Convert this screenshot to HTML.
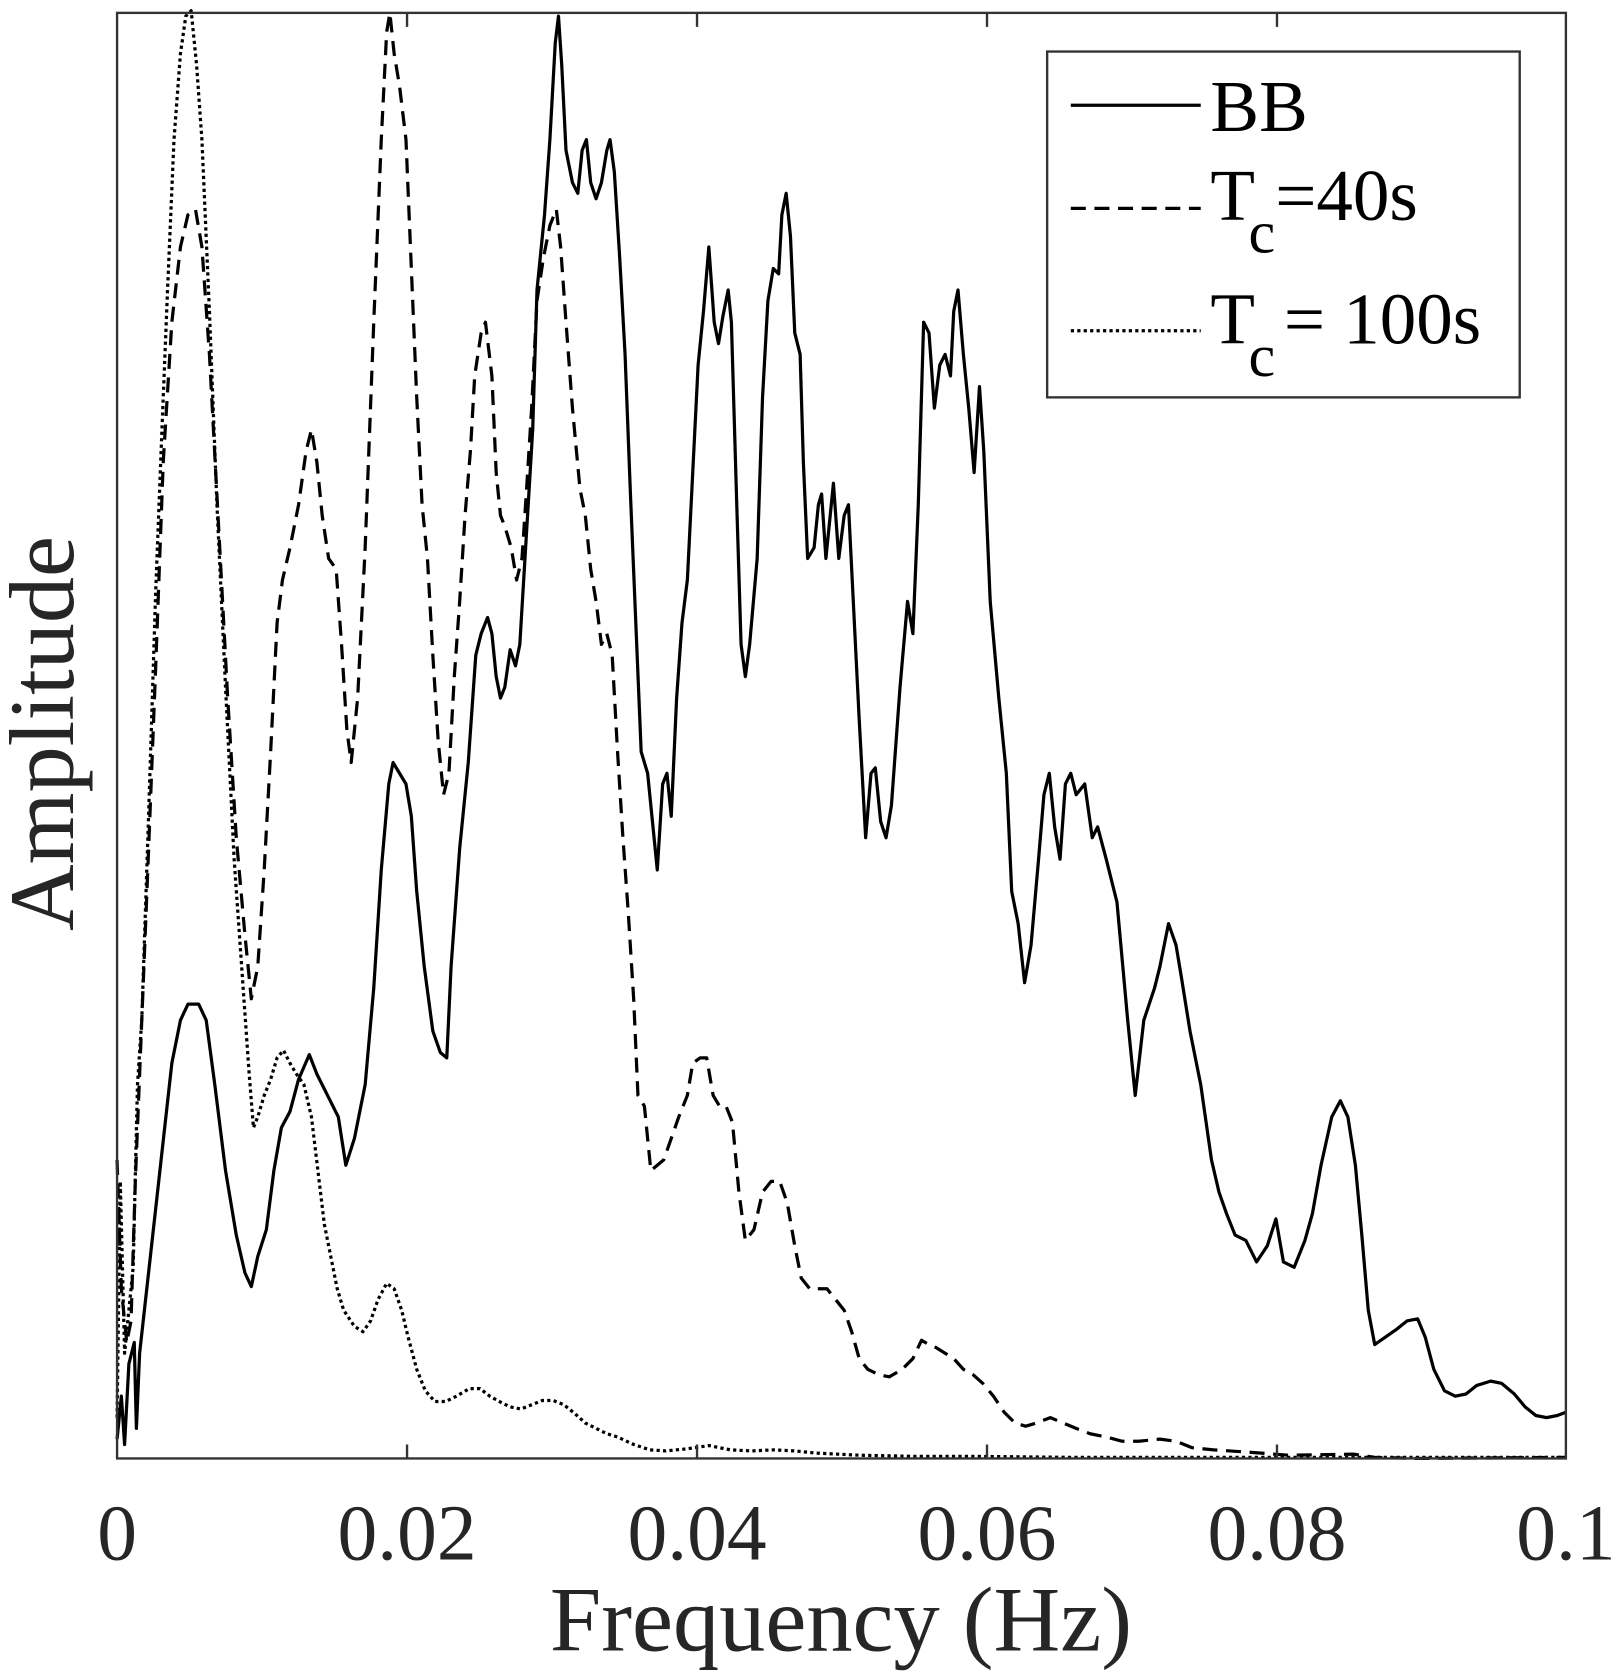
<!DOCTYPE html>
<html><head><meta charset="utf-8"><style>html,body{margin:0;padding:0;background:#fff}svg{display:block}</style></head>
<body>
<svg width="1611" height="1677" viewBox="0 0 1500 1561.5" preserveAspectRatio="none" xmlns="http://www.w3.org/2000/svg" font-family="'Liberation Serif', serif">
<rect width="1500" height="1562" fill="#fff"/>
<g fill="none" stroke="#000" stroke-width="3" stroke-linejoin="round">
<polyline stroke-dasharray="3,3" points="109,1320 112,1100 116,1260 120,1220 124,1180 128,1010 132,950 138,770 145,550 150,420 156,270 162,130 168,50 173,15 178,10 183,60 188,130 195,290 202,470 210,640 218,800 225,900 232,1000 236,1050 240,1040 246,1020 252,1005 258,985 264,978 270,990 276,1000 283,1010 290,1040 296,1090 302,1140 308,1170 314,1200 320,1220 330,1235 338,1240 345,1230 352,1210 360,1195 367,1200 374,1220 380,1245 388,1275 396,1295 405,1305 415,1305 425,1300 437,1293 447,1293 456,1300 465,1305 475,1310 485,1312 495,1308 505,1304 515,1304 525,1308 535,1316 545,1325 555,1330 565,1335 575,1338 590,1345 605,1350 620,1351 640,1349 660,1346 680,1350 700,1351 720,1350 740,1351 760,1353 800,1355 850,1356 900,1356 1000,1357 1458,1357"/>
<polyline stroke-dasharray="14,8" points="109,1080 113,1200 118,1250 122,1230 126,1100 130,1000 138,800 145,620 152,430 160,300 168,230 175,200 182,195 188,230 195,330 203,480 212,650 220,780 228,870 234,930 240,900 246,810 252,700 258,580 263,540 270,510 278,470 285,420 290,400 295,430 300,480 306,520 313,530 318,600 323,680 327,710 333,650 340,510 348,300 355,130 360,30 363,12 367,50 372,80 378,130 383,250 388,370 393,470 398,520 403,610 408,690 413,740 418,720 423,630 428,560 433,480 438,420 442,350 448,310 452,300 458,350 462,440 466,480 470,490 476,510 481,540 486,520 490,460 495,380 500,280 506,240 512,210 518,195 522,230 527,300 533,380 540,455 545,480 550,530 555,560 560,600 565,590 570,610 575,700 580,780 585,850 590,930 594,1020 600,1030 606,1090 612,1085 618,1080 625,1060 632,1040 640,1020 645,990 652,985 658,985 664,1020 670,1030 676,1030 682,1045 688,1110 694,1155 702,1145 710,1110 718,1100 726,1100 733,1120 740,1160 746,1190 754,1200 762,1200 770,1200 778,1210 786,1220 793,1240 800,1265 808,1275 818,1280 828,1282 840,1275 850,1265 858,1248 865,1252 872,1255 880,1260 888,1265 897,1275 906,1280 915,1288 925,1300 935,1315 945,1325 955,1328 965,1325 978,1320 990,1325 1002,1330 1015,1335 1030,1338 1045,1342 1060,1342 1080,1340 1095,1342 1110,1348 1130,1350 1160,1352 1200,1355 1260,1354 1280,1357 1320,1358 1458,1357"/>
<polyline points="109,1340 113,1300 116,1345 120,1270 125,1250 127,1330 130,1260 140,1170 150,1080 160,990 168,950 175,935 185,935 192,950 200,1010 210,1090 220,1150 228,1185 234,1198 240,1170 248,1145 255,1090 262,1050 270,1035 278,1005 288,982 295,1000 305,1020 315,1040 322,1085 330,1060 340,1010 348,920 355,810 362,730 366,710 372,720 378,730 383,760 388,830 395,900 403,960 410,980 416,985 420,900 428,790 436,710 443,610 448,590 454,575 458,590 462,630 466,650 470,640 475,605 480,620 484,600 490,500 496,400 500,270 507,200 512,130 517,40 520,15 523,60 527,140 533,170 538,180 542,140 546,130 550,170 555,185 560,170 565,140 568,130 572,160 577,240 582,330 587,460 592,580 597,700 603,720 608,770 612,810 617,730 621,720 625,760 630,650 635,580 640,540 645,440 650,340 655,290 660,230 665,300 669,320 673,295 678,270 681,300 686,470 690,600 694,630 698,600 705,520 710,370 715,280 720,250 725,255 728,200 732,180 736,220 740,310 745,330 748,430 752,520 758,510 762,470 765,460 769,520 773,480 776,450 781,520 786,480 790,470 795,570 800,670 806,780 811,720 815,715 820,765 825,780 830,750 838,640 845,560 850,590 855,470 860,300 865,310 870,380 875,340 880,330 885,350 888,290 892,270 897,330 902,380 907,440 912,360 916,420 922,560 930,650 937,720 942,830 948,860 954,915 960,880 967,800 972,740 977,720 982,770 987,800 992,730 997,720 1002,740 1010,730 1017,780 1022,770 1030,800 1040,840 1050,950 1057,1020 1065,950 1075,920 1080,900 1088,860 1095,880 1100,910 1108,960 1118,1010 1128,1080 1135,1110 1142,1130 1150,1150 1160,1155 1170,1175 1180,1160 1188,1135 1195,1175 1205,1180 1215,1155 1222,1130 1230,1085 1240,1040 1248,1025 1255,1040 1262,1085 1268,1150 1274,1220 1280,1252 1290,1245 1300,1238 1310,1230 1320,1228 1327,1245 1335,1275 1345,1295 1355,1300 1365,1298 1375,1290 1388,1286 1398,1288 1410,1298 1420,1310 1430,1318 1440,1320 1450,1318 1458,1315"/>
</g>
<g stroke="#333" stroke-width="2.2" fill="none">
<rect x="109" y="12" width="1349" height="1346"/>
<path d="M379,1358v-13M649,1358v-13M919,1358v-13M1189,1358v-13M379,12v13M649,12v13M919,12v13M1189,12v13"/>
</g>
<g font-size="74" fill="#262626" text-anchor="middle">
<text x="109" y="1452">0</text>
<text x="379" y="1452">0.02</text>
<text x="649" y="1452">0.04</text>
<text x="919" y="1452">0.06</text>
<text x="1189" y="1452">0.08</text>
<text x="1458" y="1452">0.1</text>
<text x="783" y="1537" font-size="86">Frequency (Hz)</text>
<text transform="translate(68,683) rotate(-90)" font-size="86">Amplitude</text>
</g>
<rect x="975" y="48" width="440" height="322" fill="#fff" stroke="#333" stroke-width="2.2"/>
<g stroke="#000" stroke-width="3">
<line x1="997" y1="98" x2="1118" y2="98"/>
<line x1="997" y1="194" x2="1118" y2="194" stroke-dasharray="14,8"/>
<line x1="997" y1="308" x2="1118" y2="308" stroke-dasharray="3,3"/>
</g>
<g font-size="68" fill="#000">
<text x="1127" y="122">BB</text>
<text x="1127" y="205">T<tspan font-size="56" dx="-6" dy="30">c</tspan><tspan font-size="68" dx="0" dy="-30">=40s</tspan></text>
<text x="1127" y="320">T<tspan font-size="56" dx="-6" dy="30">c</tspan><tspan font-size="68" dx="8" dy="-30">= 100s</tspan></text>
</g>
</svg>
</body></html>
